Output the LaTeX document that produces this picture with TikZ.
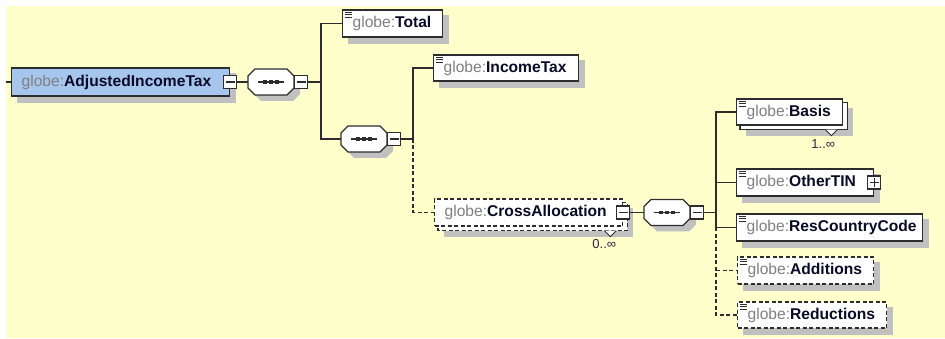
\documentclass[tikz,border=0pt]{standalone}
\usepackage{fontspec}
\setmainfont{Liberation Sans}
\definecolor{bgyellow}{RGB}{255,255,204}
\definecolor{shadowcol}{RGB}{192,192,192}
\definecolor{bordercol}{RGB}{45,45,45}
\definecolor{rootblue}{RGB}{166,198,238}
\definecolor{prefixcol}{RGB}{128,128,128}
\definecolor{namecol}{RGB}{10,10,40}
\definecolor{multcol}{RGB}{60,30,60}
\pgfdeclarelayer{bg}
\pgfsetlayers{bg,main}
\newcommand\gl[1]{\mbox{\textcolor{prefixcol}{globe:}\textcolor{namecol}{\bfseries #1}}}
\newcommand\txticon[1]{%
  \foreach \dy in {3,5.5,8}{\draw[line width=0.9pt,bordercol] ([shift={(2.5,\dy)}]#1.north west) -- ++(7,0);}}
\newcommand\shadowrect[1]{%
  \begin{pgfonlayer}{bg}
    \fill[shadowcol] ([shift={(6,6)}]#1.north west) rectangle ([shift={(6,6)}]#1.south east);
  \end{pgfonlayer}}
\newcommand\stackback[2]{%
  \begin{pgfonlayer}{bg}
    \fill[shadowcol] ([shift={(10,10)}]#1.north west) rectangle ([shift={(10,10)}]#1.south east);
    \draw[line width=1.3pt,draw=bordercol,fill=white,#2] ([shift={(4,4)}]#1.north west) rectangle ([shift={(4,4)}]#1.south east);
  \end{pgfonlayer}}
% octagon path around a centre, half width 23, half height 13, chamfer 7
\newcommand\octpath[1]{(#1) ++(-16,-13) -- ++(32,0) -- ++(7,7) -- ++(0,12) -- ++(-7,7) -- ++(-32,0) -- ++(-7,-7) -- ++(0,-12) -- cycle}
\newcommand\seqdraw[1]{%
  \begin{pgfonlayer}{bg}
    \fill[shadowcol] \octpath{[shift={(6,6)}]#1.center};
  \end{pgfonlayer}
  \draw[line width=1.3pt,draw=bordercol,fill=white] \octpath{#1.center};
  \draw[line width=1.1pt,bordercol] (#1.center) ++(-13,0) -- ++(26,0);
  \foreach \d in {-6,0,6}{\fill[bordercol] (#1.center) ++(\d-1.7,-1.7) rectangle ++(3.4,3.4);}}
\tikzset{
  elem/.style={draw=bordercol,fill=white,line width=1.3pt,minimum height=27pt,
    inner xsep=10pt,inner ysep=0pt,text width=#1,align=left,anchor=west,
    font=\fontsize{15.6}{17}\selectfont},
  optdash/.style={dash pattern=on 4pt off 2.5pt},
  conn/.style={line width=1.3pt,draw=bordercol},
  seqbox/.style={rectangle,minimum width=46pt,minimum height=26pt,inner sep=0pt},
  minusbox/.style={draw=bordercol,fill=white,line width=1.2pt,minimum size=13pt,inner sep=0pt,
    path picture={\draw[line width=1.1pt,bordercol] (path picture bounding box.center) ++(-4.5,0) -- ++(9,0);}},
  plusbox/.style={draw=bordercol,fill=white,line width=1.2pt,minimum size=13pt,inner sep=0pt,
    path picture={\draw[line width=1.1pt,bordercol] (path picture bounding box.center) ++(-4.5,0) -- ++(9,0)
      (path picture bounding box.center) ++(0,-4.5) -- ++(0,9);}},
  notch/.style={line width=0.9pt,draw=bordercol,fill=white},
  mult/.style={font=\fontsize{13}{14}\selectfont,text=multcol,inner sep=0pt}
}
\begin{document}
\begin{tikzpicture}[x=1pt,y=-1pt]
\useasboundingbox (0,0) rectangle (945,339);
\begin{pgfonlayer}{bg}
  \fill[bgyellow] (6,6) rectangle (945,338);
\end{pgfonlayer}

% root
\node[elem=198,fill=rootblue,minimum height=28pt] (root) at (11,82) {\gl{AdjustedIncomeTax}};
\shadowrect{root}
\node[minusbox] (mroot) at (root.east) {};
\coordinate (in) at (6,82);

% first sequence
\node[seqbox] (seq1) at (271,82) {};
\seqdraw{seq1}
\node[minusbox,anchor=west] (m1) at (seq1.east) {};
\coordinate (b1) at (321,82);

\node[elem=80] (total) at (342,23.5) {\gl{Total}};
\shadowrect{total}
\txticon{total}

% second sequence
\node[seqbox] (seq2) at (364,139) {};
\seqdraw{seq2}
\node[minusbox,anchor=west] (m2) at (seq2.east) {};
\coordinate (b2) at (413,139);

\node[elem=125,minimum height=26pt] (income) at (433,68) {\gl{IncomeTax}};
\shadowrect{income}
\txticon{income}

\node[elem=168,optdash] (cross) at (434,212.5) {\gl{CrossAllocation}};
\stackback{cross}{optdash}
\node[minusbox] (mcross) at (cross.east) {};
\draw[notch] ([shift={(-19,4)}]cross.south east) -- ++(6,6) -- ++(6,-6);
\node[mult] (multcross) at ([shift={(-19,17)}]cross.south east) {0..∞};

% third sequence
\node[seqbox] (seq3) at (667,212.5) {};
\seqdraw{seq3}
\node[minusbox,anchor=west] (m3) at (seq3.east) {};
\coordinate (b3) at (716,212.5);

\node[elem=86,minimum height=26pt] (basis) at (736,112) {\gl{Basis}};
\stackback{basis}{}
\txticon{basis}
\draw[notch] ([shift={(-18,4)}]basis.south east) -- ++(6,6) -- ++(6,-6);
\node[mult] (multbasis) at ([shift={(-20,18)}]basis.south east) {1..∞};

\node[elem=117] (othertin) at (736,182.5) {\gl{OtherTIN}};
\shadowrect{othertin}
\txticon{othertin}
\node[plusbox] (ptin) at (othertin.east) {};

\node[elem=166] (rescc) at (736,227.5) {\gl{ResCountryCode}};
\shadowrect{rescc}
\txticon{rescc}

\node[elem=116,optdash] (additions) at (737,270.5) {\gl{Additions}};
\shadowrect{additions}
\txticon{additions}

\node[elem=129,optdash,minimum height=26pt] (reductions) at (737,315) {\gl{Reductions}};
\shadowrect{reductions}
\txticon{reductions}

% connectors
\draw[conn] (in) -- (root.west);
\draw[conn] (mroot.east) -- (seq1.west);
\draw[conn] (m1.east) -- (b1);
\draw[conn] (total.west) -- (total.west -| b1) -- (seq2.west -| b1) -- (seq2.west);

\draw[conn] (m2.east) -- (b2);
\draw[conn] (income.west) -- (income.west -| b2) -- (b2);
\draw[conn,optdash] (b2) |- (cross.west);

\draw[conn] (mcross.east) -- (seq3.west);
\draw[conn] (m3.east) -- (b3);
\draw[conn] (basis.west) -- (basis.west -| b3) -- (rescc.west -| b3) -- (rescc.west);
\draw[conn] (othertin.west) -- (othertin.west -| b3);
\draw[conn,optdash] (rescc.west -| b3) |- (reductions.west);
\draw[conn,optdash] (additions.west -| b3) -- (additions.west);
\end{tikzpicture}
\end{document}
